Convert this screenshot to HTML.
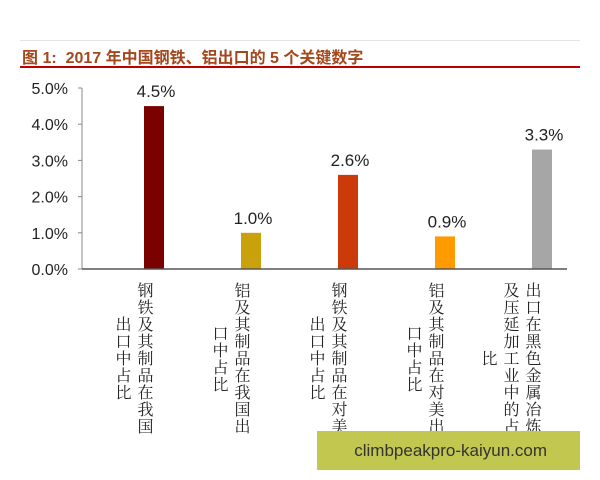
<!DOCTYPE html>
<html><head><meta charset="utf-8"><style>
body{margin:0;background:#fff;width:600px;height:480px;overflow:hidden;position:relative;font-family:"Liberation Sans","Noto Sans CJK SC",sans-serif}
.cat{position:absolute;top:281px;writing-mode:vertical-rl;font-family:"Noto Serif CJK SC","Noto Sans CJK SC",serif;font-size:16px;line-height:22px;letter-spacing:1px;height:155px;color:#222;text-align:center}
</style></head><body>
<div style="position:absolute;left:20px;top:40px;width:560px;height:1px;background:#e4e4e4"></div>
<div style="position:absolute;left:22px;top:44px;font-size:16px;font-weight:bold;color:#a4471c;white-space:nowrap">图 1:&nbsp; 2017 年中国钢铁、铝出口的 5 个关键数字</div>
<div style="position:absolute;left:20px;top:66px;width:560px;height:2px;background:#c00000"></div>
<svg id="chart" width="600" height="480" style="position:absolute;left:0;top:0" xmlns="http://www.w3.org/2000/svg"></svg>
<div id="cats"></div>
<div style="position:absolute;left:317px;top:431px;width:263px;height:39px;background:#c2c74f;color:#333;font-size:17px;line-height:39px"><span style="position:absolute;right:33px">climbpeakpro-kaiyun.com</span></div>
<script>
const categories=["钢铁及其制品在我国出口中占比","铝及其制品在我国出口中占比","钢铁及其制品在对美出口中占比","铝及其制品在对美出口中占比","出口在黑色金属冶炼及压延加工业中的占比"];
const values=[4.5,1.0,2.6,0.9,3.3];
const valueLabels=["4.5%","1.0%","2.6%","0.9%","3.3%"];
const colors=["#7b0000","#c9a10a","#cc3a0a","#ff9a00","#a6a6a6"];
const yTicks=[0,1,2,3,4,5];
const yTickLabels=["0.0%","1.0%","2.0%","3.0%","4.0%","5.0%"];

const svg=document.getElementById('chart');
const NS="http://www.w3.org/2000/svg";
const y=v=>269-v*(181/5);
const x=i=>154+i*97;
function mk(t,a){const e=document.createElementNS(NS,t);for(const k in a)e.setAttribute(k,a[k]);svg.appendChild(e);return e;}
let ax=mk('line',{x1:82,y1:88,x2:82,y2:269,stroke:'#888','stroke-width':1});


yTicks.forEach((t,i)=>{
  let tk=mk('line',{x1:78,y1:y(t),x2:82,y2:y(t),stroke:'#888','stroke-width':1});
  
  
  let tl=mk('text',{x:68,y:y(t)+6,'text-anchor':'end','font-size':16,fill:'#222'});
  tl.textContent=yTickLabels[i];
  
  
});
values.forEach((v,i)=>{
  let b=mk('rect',{x:x(i)-10,y:y(v),width:20,height:269-y(v),fill:colors[i]});
  
  
  let l=mk('text',{x:x(i)+2,y:y(v)-9,'text-anchor':'middle','font-size':17,fill:'#222'});
  l.textContent=valueLabels[i];
  
  
});
let xa=mk('line',{x1:82,y1:269,x2:567,y2:269,stroke:'#555','stroke-width':1.5});


const cd=document.getElementById('cats');
categories.forEach((c,i)=>{
  const d=document.createElement('div');
  d.className='cat';
  d.textContent=c;
  d.style.right=(600-x(i)-2)+'px';
  
  
  cd.appendChild(d);
});
</script>
</body></html>
